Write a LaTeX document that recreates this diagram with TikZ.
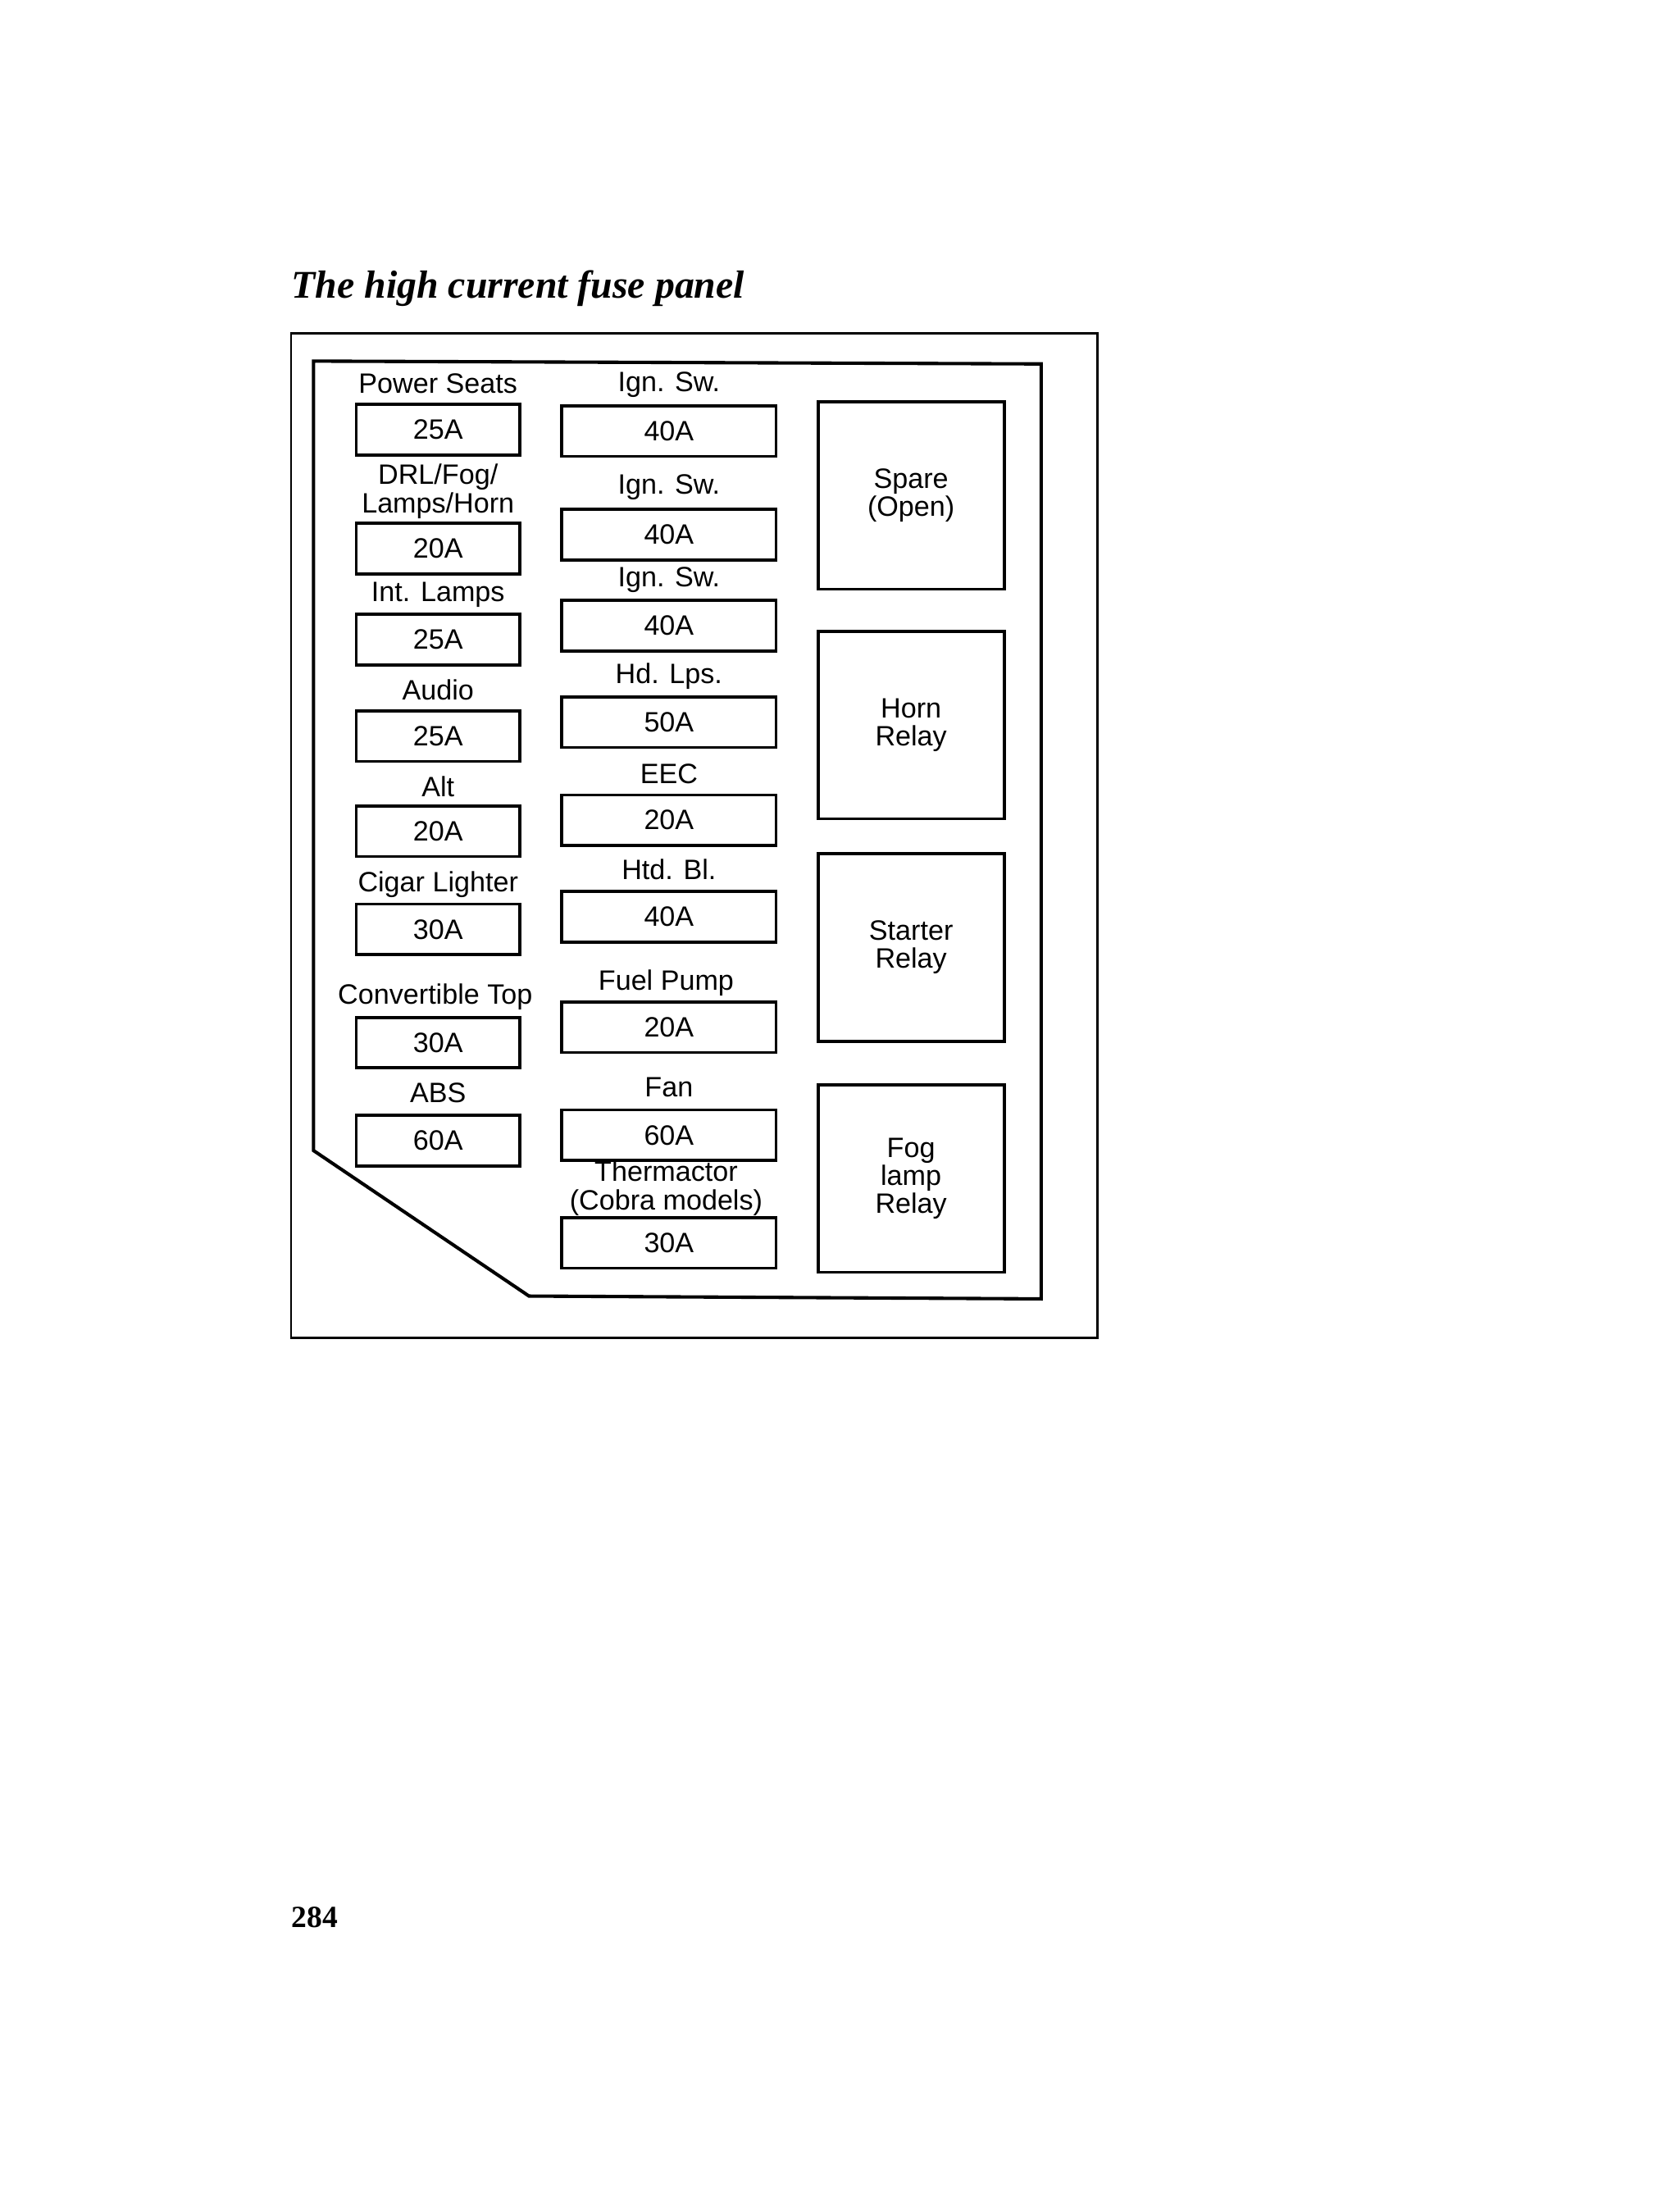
\documentclass[tikz,border=0pt]{standalone}
\usepackage{fontspec}
\setmainfont{Liberation Sans}
\newfontfamily\titlefont{Liberation Serif}
\begin{document}
\begin{tikzpicture}[x=0.5pt,y=-0.5pt,
  fuse/.style={draw,line width=1.1pt,minimum width=58.5pt,minimum height=18pt,inner sep=0pt,font=\fontsize{10}{10}\selectfont},
  mfuse/.style={fuse,minimum width=76.5pt},
  relay/.style={draw,line width=1.1pt,minimum width=66.5pt,minimum height=67pt,align=center,inner sep=0pt,font=\fontsize{10}{10}\selectfont},
  lbl/.style={align=center,inner sep=0pt,font=\fontsize{10}{10.2}\selectfont}]
\useasboundingbox (0,0) rectangle (1200,1569);
\node[anchor=west,inner sep=0pt,font=\titlefont\fontsize{14}{14}\selectfont\bfseries\itshape] (title) at (208,206) {The high current fuse panel};
\draw[line width=0.8pt] (208,238) rectangle (784,956);
\draw[line width=1.2pt] (224,258) -- (744,260) -- (744,928) -- (378,926) -- (224,822) -- cycle;
% left column
\foreach \n/\y/\v in {l1/307/25A,l2/392/20A,l3/457/25A,l4/526/25A,l5/594/20A,l6/664/30A,l7/745/30A,l8/815/60A}
  \node[fuse] (\n) at (313,\y) {\v};
\node[lbl] (t1) at (313,274) {Power Seats};
\node[lbl] (t2) at (313,351) {DRL/Fog/\\Lamps/Horn};
\node[lbl] (t3) at (313,425) {Int. Lamps};
\node[lbl] (t4) at (313,493) {Audio};
\node[lbl] (t5) at (313,562) {Alt};
\node[lbl] (t6) at (313,632) {Cigar Lighter};
\node[lbl] (t7) at (311,712) {Convertible Top};
\node[lbl] (t8) at (313,781) {ABS};
% middle column
\foreach \n/\y/\v in {m1/308/40A,m2/382/40A,m3/447/40A,m4/516/50A,m5/586/20A,m6/655/40A,m7/734/20A,m8/811/60A,m9/888/30A}
  \node[mfuse] (\n) at (478,\y) {\v};
\node[lbl] (u1) at (478,275) {Ign. Sw.};
\node[lbl] (u2) at (478,348) {Ign. Sw.};
\node[lbl] (u3) at (478,414) {Ign. Sw.};
\node[lbl] (u4) at (478,483) {Hd. Lps.};
\node[lbl] (u5) at (478,553) {EEC};
\node[lbl] (u6) at (478,621) {Htd. Bl.};
\node[lbl] (u7) at (476,702) {Fuel Pump};
\node[lbl] (u8) at (478,777) {Fan};
\node[lbl] (u9) at (476,849) {Thermactor\\(Cobra models)};
% relays
\node[relay] (r1) at (651,354) {Spare\\(Open)};
\node[relay] (r2) at (651,518) {Horn\\Relay};
\node[relay] (r3) at (651,677) {Starter\\Relay};
\node[relay] (r4) at (651,842) {Fog\\lamp\\Relay};
\node[anchor=west,inner sep=0pt,font=\titlefont\fontsize{11}{11}\selectfont\bfseries] (pg) at (208,1370) {284};
\end{tikzpicture}
\end{document}
